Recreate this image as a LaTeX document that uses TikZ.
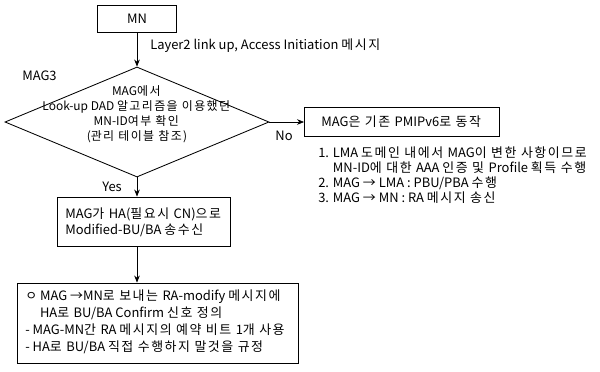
\documentclass[tikz,border=0pt]{standalone}
\usepackage{fontspec}
\setmainfont{Noto Sans CJK KR}
\usetikzlibrary{shapes.geometric,arrows.meta}
% a little extra room after each Hangul syllable
\XeTeXinterchartokenstate=1
\newXeTeXintercharclass\hangulclass
\makeatletter
\count@="AC00
\loop \XeTeXcharclass\count@=\hangulclass \advance\count@ by 1 \ifnum\count@<"D7A4 \repeat
\makeatother
\XeTeXinterchartoks\hangulclass\hangulclass={\kern0.12em\relax}
\XeTeXinterchartoks\hangulclass 0={\kern0.12em\relax}
\XeTeXinterchartoks\hangulclass 4095={\kern0.12em\relax}
\begin{document}
\begin{tikzpicture}[x=0.025cm,y=-0.025cm,>={Stealth[length=5pt,width=4pt]},font=\fontsize{9.2}{11}\selectfont]
	\tikzstyle{process}=[rectangle,draw,line width=0.6pt,inner sep=0pt]
	\tikzstyle{decision}=[diamond,draw,line width=0.6pt,minimum width=6.6cm,minimum height=2.75cm,inner sep=0pt]
	\tikzstyle{note}=[align=left,inner sep=0pt]
	\tikzstyle{flow}=[->,line width=0.5pt]
	\useasboundingbox (0,0) rectangle (600,371);

	\node[process, minimum width=1.975cm, minimum height=0.675cm] (MN) at (137,19) {MN};
	\node[decision] (D1) at (137,122) {};
	\node[align=center, inner sep=0pt, font=\fontsize{8.5}{10.7}\selectfont] (D1text) at (137,114)
		{MAG에서\\Look-up DAD 알고리즘을 이용했던\\MN-ID여부 확인\\(관리 테이블 참조)};
	\node[process, minimum width=4.875cm, minimum height=0.725cm] (R1) at (402,122) {MAG은 기존 PMIPv6로 동작};
	\node[process, minimum width=4.325cm, minimum height=1.225cm] (B2) at (143.5,221.5) {};
	\node[process, minimum width=7.025cm, minimum height=2cm] (B3) at (157.5,323) {};

	% texts
	\node[anchor=west, inner sep=0pt] (lbl1) at (150,46) {Layer2 link up, Access Initiation 메시지};
	\node[anchor=west, inner sep=0pt] (mag3) at (22,76) {MAG3};
	\node[inner sep=0pt] (lblno) at (284,136) {No};
	\node[inner sep=0pt] (lblyes) at (112,187) {Yes};
	\node[note, anchor=north west, font=\fontsize{9.2}{10.7}\selectfont] (list) at (318,146)
		{1. LMA 도메인 내에서 MAG이 변한 사항이므로\\
		\phantom{1. }MN-ID에 대한 AAA 인증 및 Profile 획득 수행\\
		2. MAG → LMA : PBU/PBA 수행\\
		3. MAG → MN : RA 메시지 송신};
	\node[note, anchor=west, font=\fontsize{9.2}{11.5}\selectfont] (B2text) at (65,222)
		{MAG가 HA(필요시 CN)으로\\Modified-BU/BA 송수신};
	\node[note, anchor=west, font=\fontsize{9.2}{12}\selectfont] (B3text) at (25,322)
		{ㅇ MAG →MN로 보내는 RA-modify 메시지에\\
		\phantom{ㅇ }HA로 BU/BA Confirm 신호 정의\\
		- MAG-MN간 RA 메시지의 예약 비트 1개 사용\\
		- HA로 BU/BA 직접 수행하지 말것을 규정};

	\draw[flow] (MN) -- (D1.north);
	\draw[flow] (D1.east) -- (R1.west);
	\draw[flow] (D1.south) -- (D1.south |- B2.north);
	\draw[flow] (D1.south |- B2.south) -- (D1.south |- B3.north);
\end{tikzpicture}
\end{document}
